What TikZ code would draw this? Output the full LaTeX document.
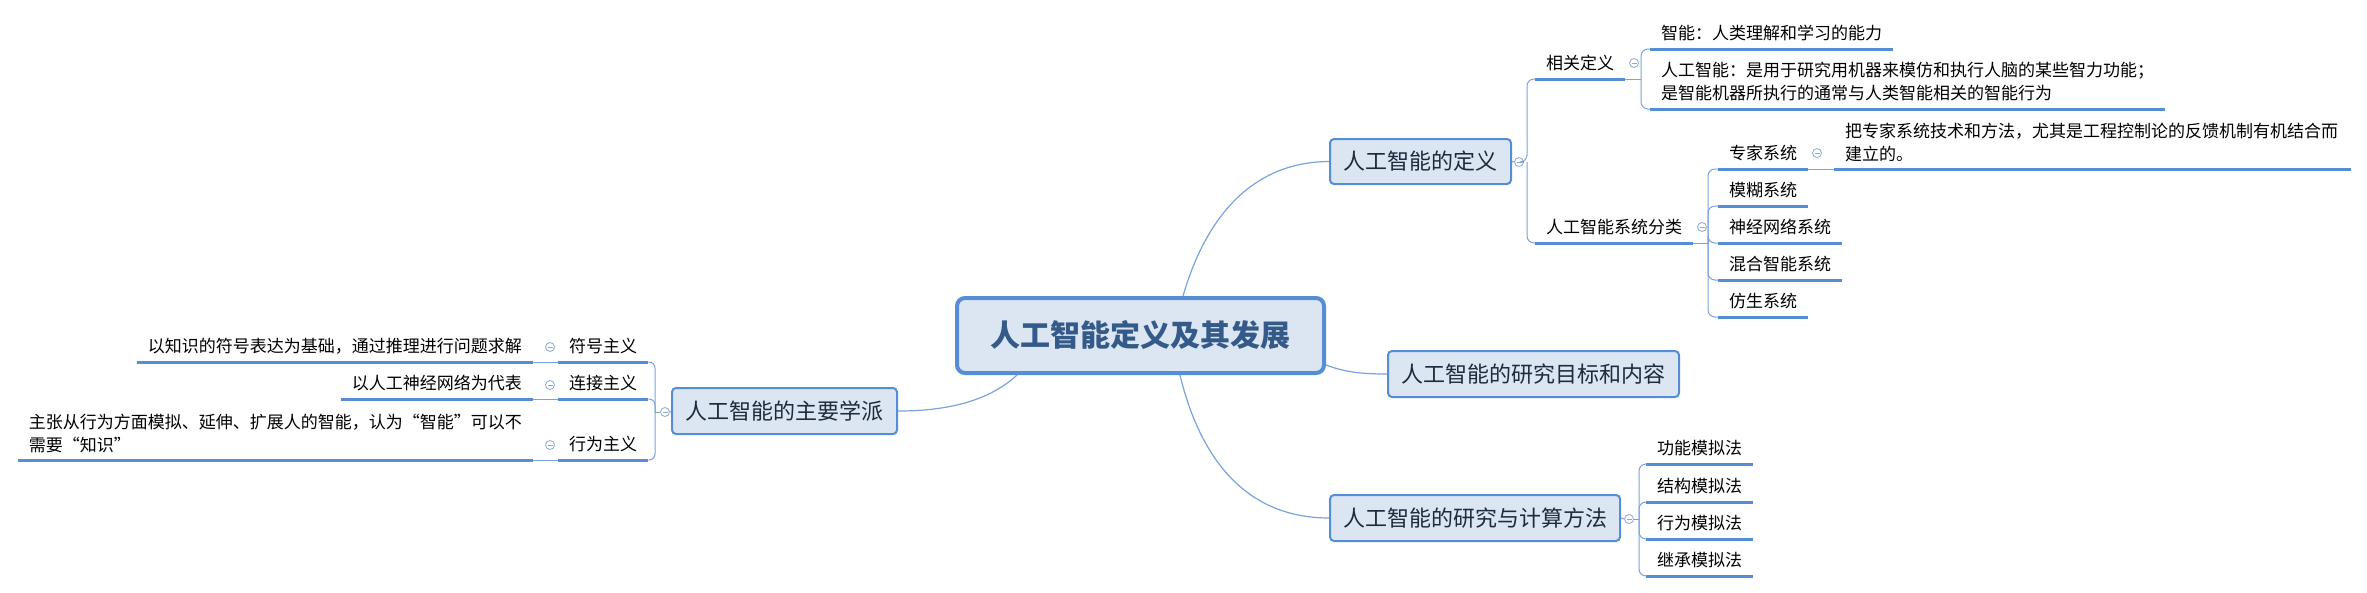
\documentclass[tikz,border=0pt]{standalone}
\usepackage{fontspec}
\setmainfont{Noto Sans CJK SC}
\usetikzlibrary{calc}
\definecolor{boxfill}{HTML}{DCE6F2}
\definecolor{boxline}{HTML}{558ED5}
\definecolor{ulc}{HTML}{558ED5}
\definecolor{connc}{HTML}{7BA3DB}
\definecolor{ctext}{HTML}{345A8A}
\definecolor{mtext}{HTML}{1E2B3C}
\definecolor{foldc}{HTML}{8CA9D3}
\tikzset{
  mainbox/.style={draw=boxline, fill=boxfill, line width=2pt, rounded corners=4pt, inner sep=0pt,
    font=\fontsize{22}{26}\selectfont, text=mtext},
  topic/.style={inner xsep=11pt, inner ysep=0pt, font=\fontsize{17}{23}\selectfont, text=black, align=left},
  ul/.style={draw=ulc, line width=3pt},
  conn/.style={draw=connc, line width=1pt},
  mconn/.style={draw=connc, line width=1.2pt},
  fold/.style={circle, draw=foldc, fill=white, minimum size=9pt, inner sep=0pt, line width=0.8pt,
    path picture={\draw[foldc, line width=0.8pt] ([xshift=-2.5pt]path picture bounding box.center) -- ([xshift=2.5pt]path picture bounding box.center);}}
}
\begin{document}
\begin{tikzpicture}[x=1pt,y=-1pt]
\useasboundingbox (0,0) rectangle (2367,592);
\fill[white] (0,0) rectangle (2367,592);

% central
\node[draw=boxline, fill=boxfill, line width=4pt, rounded corners=8pt, inner sep=0pt,
  minimum width=367pt, minimum height=75pt, text=ctext, font=\fontsize{30}{34}\selectfont\bfseries]
  (central) at (1140.5,335.5) {人工智能定义及其发展};

% main branches
\node[mainbox, minimum width=181pt, minimum height=45pt] (def) at (1420.5,161.5) {人工智能的定义};
\node[mainbox, minimum width=291pt, minimum height=46pt] (goal) at (1533.5,374) {人工智能的研究目标和内容};
\node[mainbox, minimum width=290pt, minimum height=46pt] (method) at (1475,518) {人工智能的研究与计算方法};
\node[mainbox, minimum width=225pt, minimum height=46pt] (school) at (784.5,411) {人工智能的主要学派};

\draw[mconn] ([xshift=42.5pt]central.north) .. controls (1205,220) and (1250,162) .. (def.west);
\draw[mconn] ([yshift=-29.5pt]central.east) .. controls (1345,372) and (1360,374) .. (goal.west);
\draw[mconn] ([xshift=39.5pt]central.south) .. controls (1198,450) and (1240,518) .. (method.west);
\draw[mconn] ([xshift=-123.5pt]central.south) .. controls (990,400) and (950,411) .. (school.east);

% ---------- definition subtree ----------
\node[fold] (cdef) at (1519,162) {};
\coordinate (j0) at (1527,162);
\node[topic, anchor=west] (rel) at (1535,63) {相关定义};
\node[topic, anchor=west] (cls) at (1535,227) {人工智能系统分类};
\draw[conn] (def.east) -- (cdef.west);
\draw[conn, rounded corners=7pt] (cdef.east) -- (j0) |- ([yshift=-16pt]rel.west);
\draw[conn, rounded corners=7pt] (j0) |- ([yshift=-16pt]cls.west);
\draw[ul] ([yshift=-16pt]rel.west) -- ([yshift=-16pt]rel.east);
\draw[ul] ([yshift=-16pt]cls.west) -- ([yshift=-16pt]cls.east);

\node[fold] (crel) at (1634,63) {};
\coordinate (j1) at (1641,79);
\node[topic, anchor=west] (d1) at (1650,33) {智能：人类理解和学习的能力};
\node[topic, anchor=west] (d2) at (1650,82) {人工智能：是用于研究用机器来模仿和执行人脑的某些智力功能；\\是智能机器所执行的通常与人类智能相关的智能行为};
\draw[conn] ([yshift=-16pt]rel.east) -- (j1);
\draw[conn, rounded corners=7pt] (j1) |- ([yshift=-16pt]d1.west);
\draw[conn, rounded corners=7pt] (j1) |- ([yshift=-27pt]d2.west);
\draw[ul] ([yshift=-16pt]d1.west) -- ([yshift=-16pt]d1.east);
\draw[ul] ([yshift=-27pt]d2.west) -- ([yshift=-27pt]d2.east);

\node[fold] (ccls) at (1702,227) {};
\coordinate (j2) at (1708,243);
\node[topic, anchor=west] (s1) at (1718,153) {专家系统};
\node[topic, anchor=west] (s2) at (1718,190) {模糊系统};
\node[topic, anchor=west] (s3) at (1718,227) {神经网络系统};
\node[topic, anchor=west] (s4) at (1718,264) {混合智能系统};
\node[topic, anchor=west] (s5) at (1718,301) {仿生系统};
\draw[conn] ([yshift=-16pt]cls.east) -- (j2);
\foreach \n in {s1,s2,s3,s4,s5}{
  \draw[conn, rounded corners=7pt] (j2) |- ([yshift=-16pt]\n.west);
  \draw[ul] ([yshift=-16pt]\n.west) -- ([yshift=-16pt]\n.east);
}
\node[fold] (cs1) at (1817,153) {};
\node[topic, anchor=west] (s1a) at (1834,142) {把专家系统技术和方法，尤其是工程控制论的反馈机制有机结合而\\建立的。};
\draw[conn] ([yshift=-16pt]s1.east) -- ([yshift=-27pt]s1a.west);
\draw[ul] ([yshift=-27pt]s1a.west) -- ([xshift=2pt,yshift=-27pt]s1a.east);

% ---------- method subtree ----------
\node[fold] (cmeth) at (1629,519) {};
\coordinate (j3) at (1639,519);
\node[topic, anchor=west] (m1) at (1646,448) {功能模拟法};
\node[topic, anchor=west] (m2) at (1646,486) {结构模拟法};
\node[topic, anchor=west] (m3) at (1646,523) {行为模拟法};
\node[topic, anchor=west] (m4) at (1646,560) {继承模拟法};
\draw[conn] (method.east) -- (cmeth.west);
\draw[conn] (cmeth.east) -- (j3);
\foreach \n in {m1,m2,m3,m4}{
  \draw[conn, rounded corners=7pt] (j3) |- ([yshift=-16pt]\n.west);
  \draw[ul] ([yshift=-16pt]\n.west) -- ([yshift=-16pt]\n.east);
}

% ---------- school subtree ----------
\node[fold] (cschool) at (665,412) {};
\coordinate (j4) at (655,412);
\node[topic, anchor=west] (p1) at (558,346) {符号主义};
\node[topic, anchor=west] (p2) at (558,383) {连接主义};
\node[topic, anchor=west] (p3) at (558,444) {行为主义};
\draw[conn] (school.west) -- (cschool.east);
\draw[conn] (cschool.west) -- (j4);
\foreach \n in {p1,p2,p3}{
  \draw[conn, rounded corners=6pt] (j4) |- ([yshift=-16pt]\n.east);
  \draw[ul] ([yshift=-16pt]\n.west) -- ([yshift=-16pt]\n.east);
}
\node[topic, anchor=east] (l1) at (533,346) {以知识的符号表达为基础，通过推理进行问题求解};
\node[topic, anchor=east] (l2) at (533,383) {以人工神经网络为代表};
\node[topic, anchor=east] (l3) at (533,433) {主张从行为方面模拟、延伸、扩展人的智能，认为“智能”可以不\\需要“知识”};
\node[fold] (cp1) at (550,347) {};
\node[fold] (cp2) at (550,385) {};
\node[fold] (cp3) at (550,445) {};
\draw[conn] ([yshift=-16pt]p1.west) -- ([yshift=-16pt]l1.east);
\draw[conn] ([yshift=-16pt]p2.west) -- ([yshift=-16pt]l2.east);
\draw[conn] ([yshift=-16pt]p3.west) -- ([yshift=-27pt]l3.east);
\draw[ul] ([yshift=-16pt]l1.west) -- ([yshift=-16pt]l1.east);
\draw[ul] ([yshift=-16pt]l2.west) -- ([yshift=-16pt]l2.east);
\draw[ul] ([yshift=-27pt]l3.west) -- ([yshift=-27pt]l3.east);
\end{tikzpicture}
\end{document}
